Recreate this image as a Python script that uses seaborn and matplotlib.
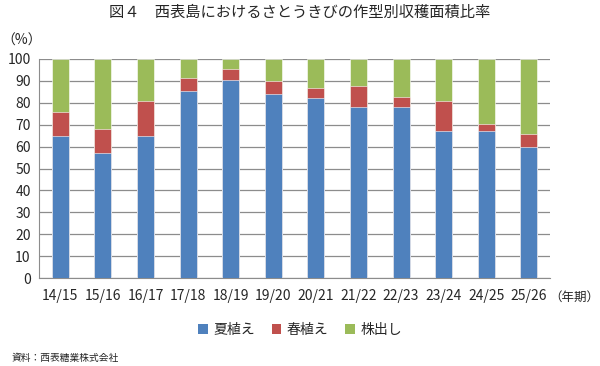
import numpy as np
import pandas as pd
import matplotlib
matplotlib.use("Agg")
import matplotlib.pyplot as plt
from matplotlib.patches import Patch
import seaborn as sns

seasons = ["14/15", "15/16", "16/17", "17/18", "18/19", "19/20",
           "20/21", "21/22", "22/23", "23/24", "24/25", "25/26"]
summer = [65.0, 56.9, 65.0, 85.2, 90.4, 83.8, 82.1, 78.0, 78.0, 67.0, 67.0, 59.9]
spring = [11.0, 11.0, 15.6, 6.1, 4.9, 6.3, 4.8, 9.5, 4.6, 13.6, 3.5, 5.8]
ratoon = [24.0, 32.1, 19.4, 8.7, 4.7, 9.9, 13.1, 12.5, 17.4, 19.4, 29.5, 34.3]

names = ["夏植え", "春植え", "株出し"]
colors = ["#4F81BD", "#C0504D", "#9BBB59"]

df = pd.DataFrame({"season": seasons, "summer": summer, "spring": spring, "ratoon": ratoon})
df["c1"] = df["summer"]
df["c2"] = df["summer"] + df["spring"]
df["c3"] = df["c2"] + df["ratoon"]

sns.set_style("white")
plt.rcParams["font.family"] = ["Noto Sans CJK JP", "DejaVu Sans"]

fig = plt.figure(figsize=(6, 3.66), dpi=100)
ax = fig.add_axes([0.065, 0.240, 0.852, 0.599])

# stacked bars by overplotting cumulative totals
for col, c in zip(["c3", "c2", "c1"], colors[::-1]):
    sns.barplot(data=df, x="season", y=col, color=c, saturation=1, width=0.4,
                edgecolor="white", linewidth=0.4, ax=ax, zorder=3)

ax.set_ylim(0, 100)
ax.set_xlim(-0.5, len(seasons) - 0.5)
ax.set_yticks(range(0, 101, 10))
ax.yaxis.grid(True, color="#8c8c8c", linewidth=0.9, zorder=0)
ax.set_axisbelow(True)
ax.set_xlabel("")
ax.set_ylabel("")
for s in ["top", "right"]:
    ax.spines[s].set_visible(False)
for s in ["left", "bottom"]:
    ax.spines[s].set_color("#8c8c8c")
ax.tick_params(axis="y", length=0, labelsize=10, pad=6)
ax.tick_params(axis="x", which="major", length=0, labelsize=10, pad=8)
ax.set_xticks(np.arange(-0.5, len(seasons)), minor=True)
ax.tick_params(axis="x", which="minor", length=5, color="#8c8c8c", direction="out")

fig.text(0.5, 0.965, "図４　西表島におけるさとうきびの作型別収穫面積比率",
         ha="center", va="center", fontsize=11)
fig.text(0.003, 0.888, "（%）", ha="left", va="center", fontsize=10)
fig.text(0.999, 0.188, "（年期）", ha="right", va="center", fontsize=9)
fig.text(0.02, 0.022, "資料：西表糖業株式会社", ha="left", va="center", fontsize=7)

handles = [Patch(facecolor=c, edgecolor="none") for c in colors]
fig.legend(handles, names, loc="center", bbox_to_anchor=(0.5, 0.098), ncol=3,
           frameon=False, fontsize=10, handlelength=0.7, handleheight=0.7,
           handletextpad=0.4, columnspacing=1.2)

fig.savefig("out.png", dpi=100)
